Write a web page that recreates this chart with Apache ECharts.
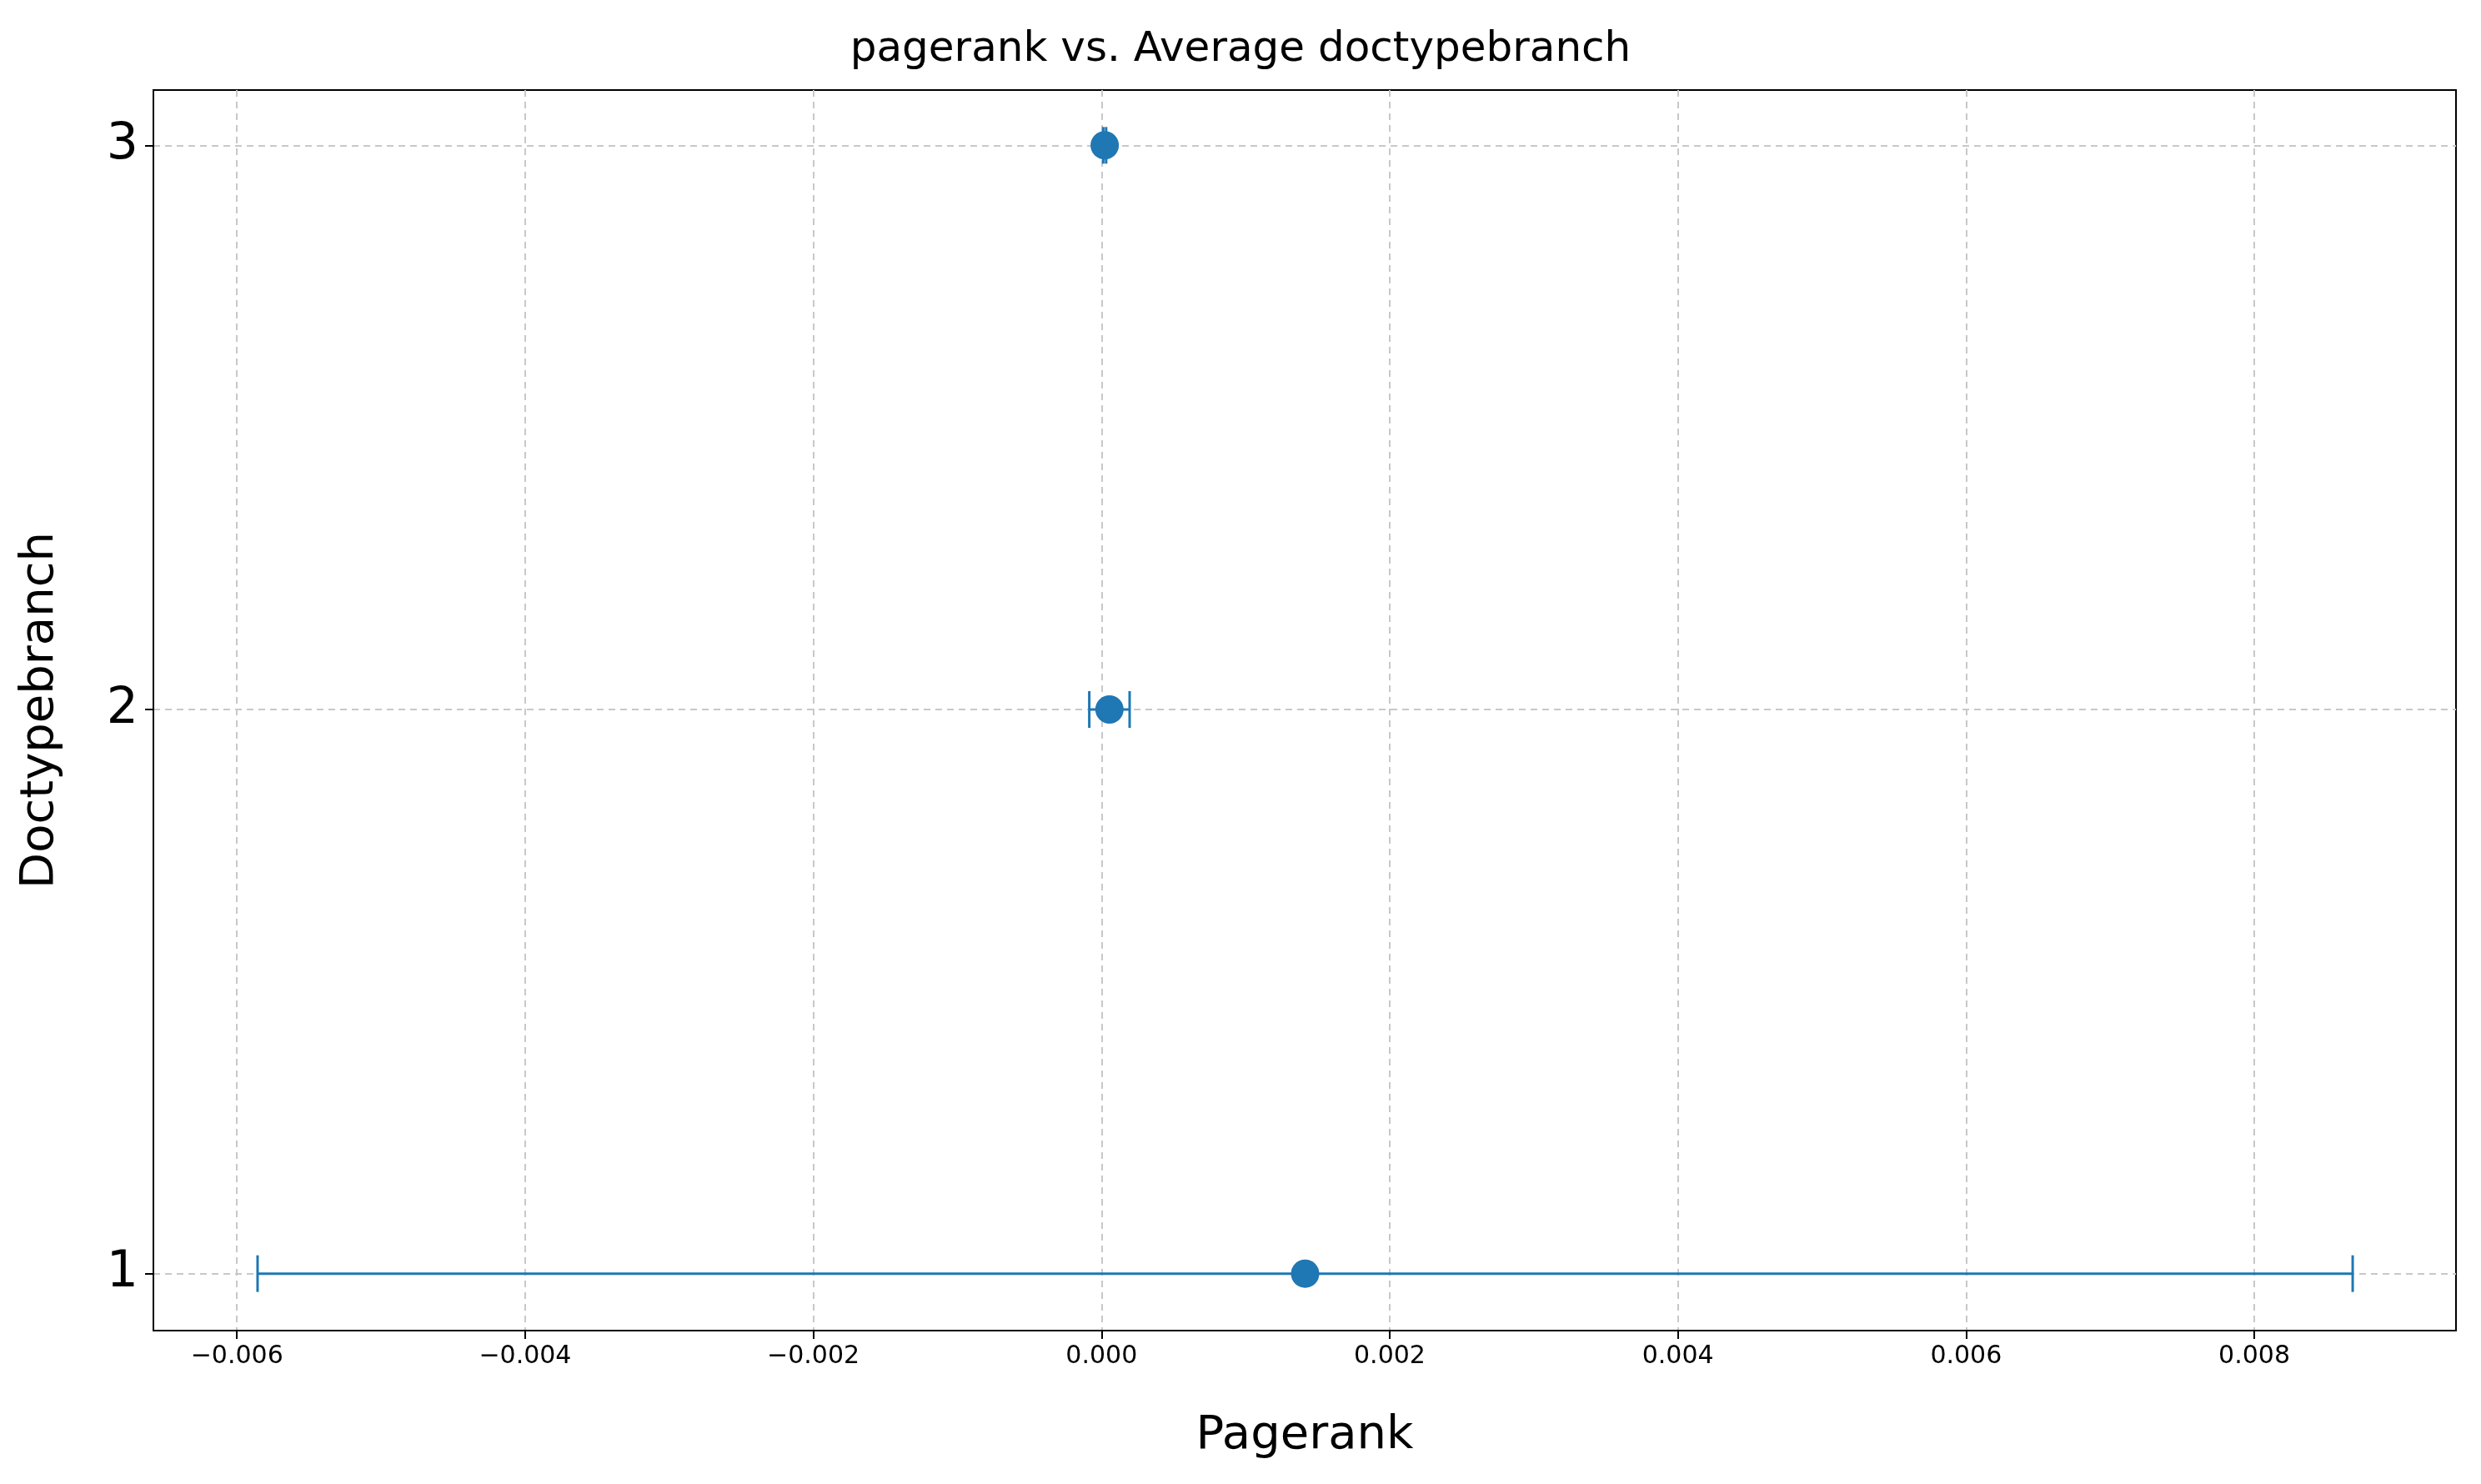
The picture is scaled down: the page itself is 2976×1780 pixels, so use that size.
<!DOCTYPE html>
<html>
<head>
<meta charset="utf-8">
<script src="https://cdn.jsdelivr.net/npm/echarts@6/dist/echarts.min.js"></script>
<style>html,body{margin:0;padding:0;background:#fff}#c{width:2976px;height:1780px}</style>
</head>
<body>
<div id="c"></div>
<script>
// Valores
const niveis = [1, 2, 3];
const medias = [0.001413, 0.000055, 0.000022];
const erros = [0.00727, 0.00014, 0.00001];
const ticksX = [-0.006, -0.004, -0.002, 0, 0.002, 0.004, 0.006, 0.008];
const ticksY = [1, 2, 3];

const AZUL = "#1f77b4";
const fonte = "DejaVu Sans, sans-serif";

const g = echarts.init(document.getElementById("c"));
g.setOption({
  animation: false,
  textStyle: { fontFamily: fonte },
  title: {
    text: "pagerank vs. Average doctypebranch",
    left: "center", top: 30,
    textStyle: { fontSize: 50, fontWeight: "normal", color: "#000", fontFamily: fonte },
  },
  grid: { left: 184, right: 30, top: 108, bottom: 184, show: true, borderColor: "#000", borderWidth: 2 },
  xAxis: {
    type: "value", min: -0.00658, max: 0.0094,
    name: "Pagerank", nameLocation: "middle", nameGap: 98,
    nameTextStyle: { fontSize: 56, color: "#000" },
    axisLine: { show: true, onZero: false, lineStyle: { color: "#000", width: 2 } },
    axisTick: { show: true, customValues: ticksX, length: 10, lineStyle: { color: "#000", width: 2 } },
    axisLabel: {
      customValues: ticksX, fontSize: 30, color: "#000", margin: 16,
      formatter: v => (v < 0 ? "\u2212" : "") + Math.abs(v).toFixed(3),
    },
    splitLine: { show: true, lineStyle: { color: "#c8c8c8", type: [8, 6], width: 2 } },
  },
  yAxis: {
    type: "value", min: 0.899, max: 3.098,
    name: "Doctypebranch", nameLocation: "middle", nameGap: 108,
    nameTextStyle: { fontSize: 56, color: "#000" },
    axisLine: { show: true, onZero: false, lineStyle: { color: "#000", width: 2 } },
    axisTick: { show: true, customValues: ticksY, length: 10, lineStyle: { color: "#000", width: 2 } },
    axisLabel: { customValues: ticksY, fontSize: 60, color: "#000", margin: 18 },
    splitLine: { show: true, lineStyle: { color: "#c8c8c8", type: [8, 6], width: 2 } },
  },
  series: [
    {
      type: "custom",
      data: niveis.map((y, i) => [medias[i] - erros[i], medias[i] + erros[i], y]),
      renderItem: (params, api) => {
        const a = api.coord([api.value(0), api.value(2)]);
        const b = api.coord([api.value(1), api.value(2)]);
        const cap = 22, st = { stroke: AZUL, lineWidth: 3 };
        return {
          type: "group",
          children: [
            { type: "line", shape: { x1: a[0], y1: a[1], x2: b[0], y2: b[1] }, style: st },
            { type: "line", shape: { x1: a[0], y1: a[1] - cap, x2: a[0], y2: a[1] + cap }, style: st },
            { type: "line", shape: { x1: b[0], y1: b[1] - cap, x2: b[0], y2: b[1] + cap }, style: st },
          ],
        };
      },
      z: 2,
    },
    {
      type: "scatter",
      data: niveis.map((y, i) => [medias[i], y]),
      symbolSize: 34,
      itemStyle: { color: AZUL, opacity: 1 },
      z: 3,
    },
  ],
});
</script>
</body>
</html>
